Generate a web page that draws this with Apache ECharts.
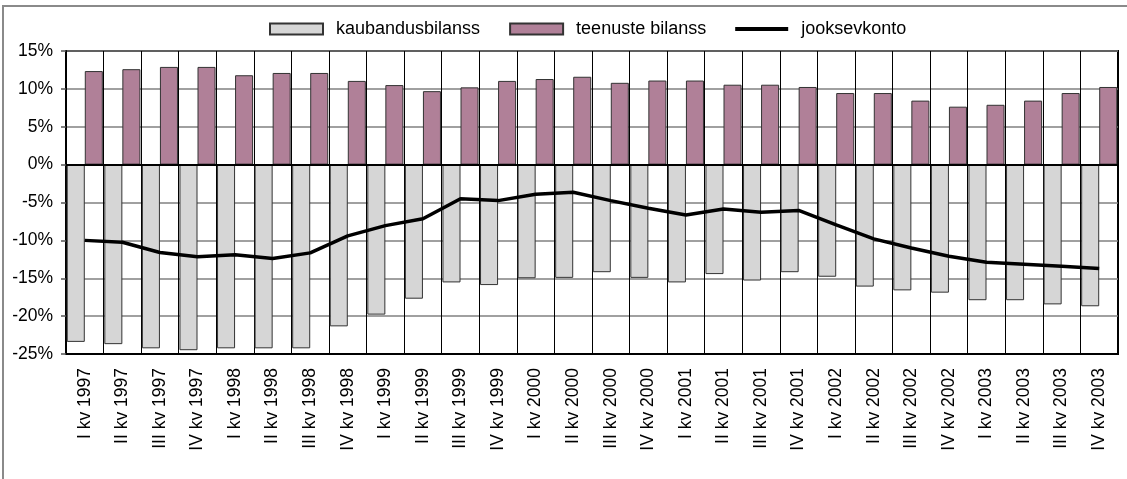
<!DOCTYPE html>
<html>
<head>
<meta charset="utf-8">
<script src="https://cdn.jsdelivr.net/npm/echarts@6/dist/echarts.min.js"></script>
<style>
    html, body { margin: 0; padding: 0; background: #fff; }
    #chart { width: 1127px; height: 479px; }
</style>
</head>
<body>
<div id="chart"></div>
<script>
const quarters = ['I kv', 'II kv', 'III kv', 'IV kv'];
const years = [1997, 1998, 1999, 2000, 2001, 2002, 2003];
const categories = years.flatMap((y) => quarters.map((q) => `${q} ${y}`));

// kaubandusbilanss, % of GDP
const tradeBalance = [
    -23.4, -23.7, -24.25, -24.5, -24.25, -24.25, -24.25, -21.35,
    -19.8, -17.7, -15.55, -15.9, -15.0, -14.95, -14.2, -14.95,
    -15.55, -14.45, -15.3, -14.2, -14.8, -16.1, -16.6, -16.9,
    -17.9, -17.9, -18.45, -18.7,
];
// teenuste bilanss
const servicesBalance = [
    12.35, 12.6, 12.9, 12.9, 11.8, 12.1, 12.1, 11.05,
    10.5, 9.7, 10.2, 11.05, 11.3, 11.6, 10.8, 11.1,
    11.1, 10.55, 10.55, 10.25, 9.45, 9.45, 8.45, 7.65,
    7.9, 8.45, 9.45, 10.25,
];
// jooksevkonto
const currentAccount = [
    -10.0, -10.25, -11.6, -12.15, -11.9, -12.4, -11.65, -9.4,
    -8.05, -7.15, -4.5, -4.75, -3.9, -3.65, -4.75, -5.75,
    -6.65, -5.85, -6.3, -6.05, -7.95, -9.8, -11.0, -12.1,
    -12.9, -13.15, -13.4, -13.7,
];

const FONT = 'Liberation Sans, Arial, sans-serif';

const chart = echarts.init(document.getElementById('chart'));
chart.setOption({
    animation: false,
    textStyle: { fontFamily: FONT, color: '#000' },
    graphic: [{
        type: 'rect',
        shape: { x: 3, y: 6, width: 1140, height: 490 },
        style: { fill: 'none', stroke: '#8a8a8a', lineWidth: 2 },
        silent: true,
    }],
    legend: {
        left: 269,
        top: 20,
        padding: 0,
        itemWidth: 53,
        itemHeight: 11,
        itemGap: 29,
        symbolKeepAspect: true,
        textStyle: { fontSize: 18, color: '#000', fontFamily: FONT, padding: [0, 0, 0, 8] },
        data: [
            { name: 'kaubandusbilanss', icon: 'rect' },
            { name: 'teenuste bilanss', icon: 'rect' },
            { name: 'jooksevkonto', icon: 'path://M0,0H53V4H0Z', itemStyle: { color: '#000', borderWidth: 0 } },
        ],
    },
    grid: {
        left: 66,
        right: 9,
        top: 51,
        bottom: 125,
        show: true,
        borderColor: '#000',
        borderWidth: 2,
    },
    xAxis: {
        type: 'category',
        data: categories,
        axisLine: { show: true, onZero: false, lineStyle: { color: '#000', width: 2 } },
        axisTick: { show: false },
        splitLine: { show: true, interval: 0, lineStyle: { color: '#000', width: 1 } },
        axisLabel: {
            interval: 0,
            rotate: 90,
            margin: 14,
            fontSize: 17.5,
            color: '#000',
            fontFamily: FONT,
        },
    },
    yAxis: {
        type: 'value',
        min: -25,
        max: 15,
        interval: 5,
        axisLine: { show: true, lineStyle: { color: '#000', width: 2 } },
        axisTick: { show: true, length: 5, lineStyle: { color: '#555', width: 1.5 } },
        splitLine: { show: true, lineStyle: { color: '#808080', width: 1.5 } },
        axisLabel: {
            formatter: '{value}%',
            margin: 13,
            fontSize: 17.5,
            color: '#000',
            fontFamily: FONT,
        },
    },
    series: [
        {
            name: 'kaubandusbilanss',
            type: 'bar',
            data: tradeBalance,
            barGap: '0%',
            barCategoryGap: '4%',
            itemStyle: { color: '#d6d6d6', borderColor: '#333', borderWidth: 1 },
            markLine: {
                silent: true,
                symbol: 'none',
                label: { show: false },
                lineStyle: { color: '#000', width: 2, type: 'solid' },
                data: [{ yAxis: 0 }],
            },
        },
        {
            name: 'teenuste bilanss',
            type: 'bar',
            data: servicesBalance,
            itemStyle: { color: '#b08098', borderColor: '#333', borderWidth: 1 },
        },
        {
            name: 'jooksevkonto',
            type: 'line',
            data: currentAccount,
            symbol: 'none',
            z: 5,
            lineStyle: { color: '#000', width: 3.5 },
            itemStyle: { color: '#000' },
        },
    ],
});
</script>
</body>
</html>
